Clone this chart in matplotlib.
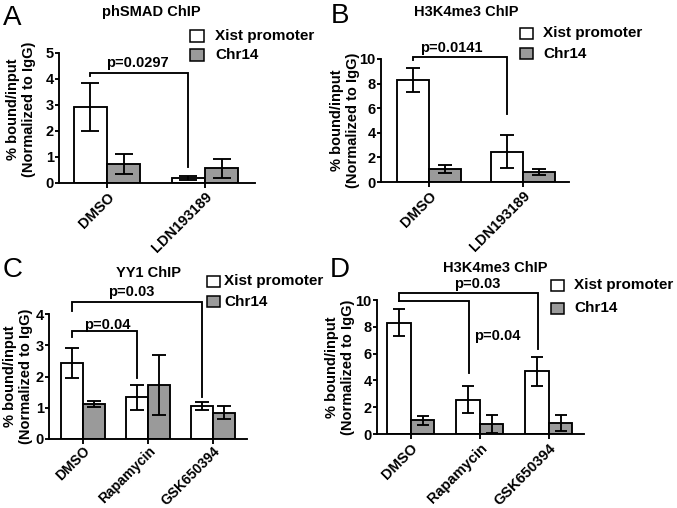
import matplotlib
matplotlib.use('Agg')
import matplotlib.pyplot as plt
from matplotlib.patches import Rectangle
import numpy as np

plt.rcParams['font.family'] = ['Liberation Sans', 'DejaVu Sans']
plt.rcParams['font.weight'] = 'bold'

# ---------------- data ----------------
cat_A = ['DMSO', 'LDN193189']
xist_A = [2.92, 0.20]
xist_A_err = [0.92, 0.07]
chr14_A = [0.74, 0.56]
chr14_A_err = [0.39, 0.36]

cat_B = ['DMSO', 'LDN193189']
xist_B = [8.32, 2.47]
xist_B_err = [0.98, 1.33]
chr14_B = [1.06, 0.79]
chr14_B_err = [0.34, 0.26]

cat_C = ['DMSO', 'Rapamycin', 'GSK650394']
xist_C = [2.43, 1.33, 1.07]
xist_C_err = [0.48, 0.40, 0.13]
chr14_C = [1.12, 1.73, 0.84]
chr14_C_err = [0.11, 0.96, 0.21]

cat_D = ['DMSO', 'Rapamycin', 'GSK650394']
xist_D = [8.31, 2.56, 4.69]
xist_D_err = [1.03, 1.01, 1.08]
chr14_D = [1.02, 0.75, 0.82]
chr14_D_err = [0.33, 0.68, 0.62]

titles = ['phSMAD ChIP', 'H3K4me3 ChIP', 'YY1 ChIP', 'H3K4me3 ChIP']
letters = ['A', 'B', 'C', 'D']
series_names = ['Xist promoter', 'Chr14']
ylabel = '% bound/input\n(Normalized to IgG)'

# ---------------- layout ----------------
W, H = 677, 508
fig = plt.figure(figsize=(W / 100, H / 100), dpi=100)


def fx(px):
    return px / W


def fy(py):
    return 1 - py / H


GRAY = '#9a9a9a'
LW = 1.35
FS = 10.5


def panel(rect, cats, xist, xerr, chr14, cerr, ymax, ystep, xlim, capsize,
          lab_off, ylab_y=0.5, xfs=FS, xpad=1.5):
    l, r, t, b = rect
    ax = fig.add_axes([fx(l), fy(b), (r - l) / W, (b - t) / H])
    x = np.arange(len(cats))
    w = 0.34
    ax.bar(x - w / 2, xist, w, color='white', edgecolor='black', linewidth=LW, zorder=2)
    ax.bar(x + w / 2, chr14, w, color=GRAY, edgecolor='black', linewidth=LW, zorder=2)
    ax.errorbar(x - w / 2, xist, yerr=xerr, fmt='none', ecolor='black', elinewidth=LW,
                capsize=capsize, capthick=LW, zorder=3, clip_on=False)
    ax.errorbar(x + w / 2, chr14, yerr=cerr, fmt='none', ecolor='black', elinewidth=LW,
                capsize=capsize, capthick=LW, zorder=3, clip_on=False)
    ax.set_xlim(*xlim)
    ax.set_ylim(0, ymax)
    ax.set_yticks(np.arange(0, ymax + 0.01, ystep))
    ax.set_xticks(x)
    ax.set_xticklabels(cats, rotation=45, ha='right', va='top', rotation_mode='anchor',
                       fontsize=xfs, fontweight='bold')
    for s in ['top', 'right']:
        ax.spines[s].set_visible(False)
    for s in ['left', 'bottom']:
        ax.spines[s].set_linewidth(LW)
    ax.tick_params(axis='y', direction='out', length=3, width=LW, labelsize=FS, pad=0.8)
    ax.tick_params(axis='x', direction='out', length=3.5, width=LW, pad=xpad)
    for lab in ax.get_yticklabels():
        lab.set_fontweight('bold')
    ax.set_ylabel(ylabel, fontsize=FS, fontweight='bold')
    ax.yaxis.set_label_coords(-lab_off / (r - l), ylab_y)
    return ax


def bracket(ax, x1, x2, y, y1, y2):
    ax.plot([x1, x1, x2, x2], [y1, y, y, y2], color='black', lw=LW, clip_on=False,
            solid_joinstyle='miter', zorder=4)


def legend(sqx, sqw, sqh, y1, y2, tx, fs=11):
    for yy, fc, lab in [(y1, 'white', series_names[0]), (y2, GRAY, series_names[1])]:
        fig.add_artist(Rectangle((fx(sqx), fy(yy + sqh)), sqw / W, sqh / H,
                                 transform=fig.transFigure, facecolor=fc,
                                 edgecolor='black', lw=1.1))
        fig.text(fx(tx), fy(yy + sqh / 2), lab, ha='left', va='center',
                 fontsize=fs, fontweight='bold')


# Panel A
axA = panel((59, 255, 53, 183), cat_A, xist_A, xist_A_err, chr14_A, chr14_A_err,
            5, 1, (-0.49, 1.51), 6.5, 23, 0.57)
bracket(axA, -0.17, 0.83, 4.25, 4.1, 0.6)
axA.text(0.31, 4.33, 'p=0.0297', ha='center', va='bottom', fontsize=FS, fontweight='bold')

# Panel B
axB = panel((381, 569, 59, 182), cat_B, xist_B, xist_B_err, chr14_B, chr14_B_err,
            10, 2, (-0.51, 1.49), 5, 21)
bracket(axB, -0.17, 0.83, 10.16, 9.9, 5.56)
axB.text(0.24, 10.35, 'p=0.0141', ha='center', va='bottom', fontsize=FS, fontweight='bold')

# Panel C
axC = panel((49, 247, 314, 439), cat_C, xist_C, xist_C_err, chr14_C, chr14_C_err,
            4, 1, (-0.52, 2.52), 4.7, 16, xfs=10, xpad=0.3)
bracket(axC, -0.17, 1.83, 4.39, 4.09, 1.36)
bracket(axC, -0.17, 0.83, 3.47, 3.26, 1.95)
axC.text(0.75, 4.47, 'p=0.03', ha='center', va='bottom', fontsize=FS, fontweight='bold')
axC.text(0.37, 3.42, 'p=0.04', ha='center', va='bottom', fontsize=FS, fontweight='bold')

# Panel D
axD = panel((377, 584, 300, 434), cat_D, xist_D, xist_D_err, chr14_D, chr14_D_err,
            10, 2, (-0.49, 2.51), 4.5, 22)
bracket(axD, -0.17, 1.84, 10.5, 9.93, 6.35)
bracket(axD, -0.17, 0.85, 9.93, 9.93, 4.54)
axD.text(0.97, 10.65, 'p=0.03', ha='center', va='bottom', fontsize=FS, fontweight='bold')
axD.text(1.25, 7.3, 'p=0.04', ha='center', va='center', fontsize=FS, fontweight='bold')

# titles
fig.text(fx(151), fy(12), titles[0], ha='center', va='center', fontsize=FS, fontweight='bold')
fig.text(fx(466), fy(12), titles[1], ha='center', va='center', fontsize=FS, fontweight='bold')
fig.text(fx(149), fy(273), titles[2], ha='center', va='center', fontsize=FS, fontweight='bold')
fig.text(fx(495), fy(268), titles[3], ha='center', va='center', fontsize=FS, fontweight='bold')

# panel letters
for lt, (px, py) in zip(letters, [(3, 5), (331, 3), (3, 257), (330, 257)]):
    fig.text(fx(px), fy(py), lt, ha='left', va='top', fontsize=20, fontweight='normal')

# legends
legend(190, 14, 12, 30, 49, 215)
legend(520, 13, 11, 28, 48, 543)
legend(207, 13, 11, 276, 296, 224)
legend(551, 13, 11, 280, 303, 574)

fig.savefig('out.png', dpi=100)
